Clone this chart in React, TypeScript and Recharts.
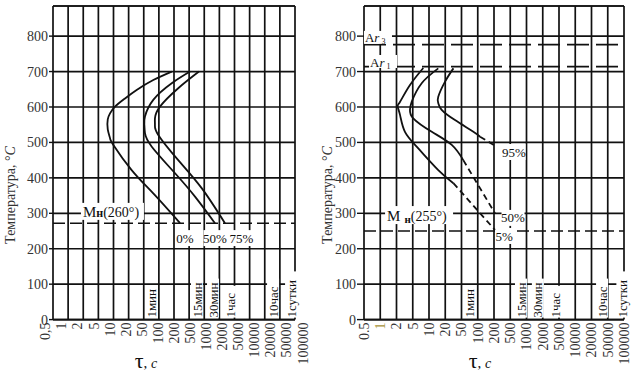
import React from "react";
import { LineChart, Line, XAxis, YAxis, CartesianGrid, ReferenceLine, ReferenceDot } from "recharts";

const FONT = '"Liberation Serif", "DejaVu Serif", serif';
const INK = "#111";
const GREY = "#333";

// time axis: ticks are evenly spaced, x values below are positions on that grid
const leftTicks = ["0,5", "1", "2", "5", "10", "20", "50", "100", "200", "500", "1000", "2000", "5000", "10000", "20000", "50000", "100000"];
const rightTicks = ["0.5", "1", "2", "5", "10", "20", "50", "100", "200", "500", "1000", "2000", "5000", "10000", "20000", "50000", "100000"];
const tempTicks = [0, 100, 200, 300, 400, 500, 600, 700, 800];
const tempTop = 885;

// left diagram, [grid position, °C]
const left0 = [[7.85, 700], [6.63, 676], [5.53, 648], [4.76, 624], [4.1, 601], [3.77, 582], [3.62, 565], [3.62, 537], [3.77, 512], [3.99, 493], [5.2, 422], [6.63, 356], [8.4, 272]];
const left50 = [[9.06, 700], [7.85, 667], [6.63, 620], [6.08, 573], [6.04, 549], [6.08, 526], [6.53, 488], [8.07, 413], [9.39, 347], [10.71, 272]];
const left75 = [[9.65, 700], [8.28, 653], [7.07, 601], [6.74, 568], [6.74, 549], [6.96, 521], [8.28, 450], [9.83, 371], [11.37, 272]];
const leftMn = 272;

// right diagram
const right5 = [[3.65, 710], [2.83, 662], [2.22, 615], [2.07, 601], [2.22, 577], [2.52, 530], [3.34, 483], [4.57, 422], [5.5, 385]];
const right5Dash = [[5.5, 385], [8.06, 253]];
const right50 = [[4.57, 709], [3.55, 667], [2.94, 615], [2.83, 592], [3.03, 568], [4.17, 530], [5.4, 493], [6.11, 450]];
const right50Dash = [[6.11, 450], [8.06, 300]];
const right95 = [[5.5, 709], [4.98, 671], [4.57, 629], [4.57, 611], [4.78, 592], [5.6, 563], [6.73, 530], [7.14, 516]];
const right95Dash = [[7.14, 516], [8.17, 488]];
const rightMn = 250;
const ar1 = 714;
const ar3 = 776;

const leftPct = [["0%", 8.73, 230], ["50%", 10.71, 230], ["75%", 12.46, 230]];
const rightPct = [["95%", 9.23, 473], ["50%", 9.17, 287], ["5%", 8.62, 236]];

const leftTimes = [["1мин", 6.48], ["15мин", 9.52], ["30мин", 10.58], ["1час", 11.7], ["10час", 14.55], ["1сутки", 15.74]];
const rightTimes = [["1мин", 6.52], ["15мин", 9.66], ["30мин", 10.7], ["1час", 11.8], ["10час", 14.65], ["1сутки", 15.9]];

const pts = (a: number[][]) => a.map(([x, t]) => ({ x, t }));

function TimeTick({ x, y, payload, labels, spread }: any) {
  const v = payload.value;
  const px = x + (spread ? (v - 8) * 0.95 : 0);
  return (
    <text x={px} y={y} transform={`rotate(-90 ${px} ${y})`} textAnchor="end" dy="0.35em" fontSize={14} fontFamily={FONT} fill={v === 1 && !spread ? "#a8923a" : GREY}>
      {labels[v]}
    </text>
  );
}

function BoxText({ cx, cy, text }: any) {
  const w = text.length * 7 + 2;
  return (
    <g>
      <rect x={cx - w / 2} y={cy - 8} width={w} height={16} fill="#fff" />
      <text x={cx} y={cy} dy="0.35em" textAnchor="middle" fontSize={13} fontFamily={FONT} fill={INK}>{text}</text>
    </g>
  );
}

function TimeMark({ cx, cy, text }: any) {
  const len = text.length * 7.2 + 3;
  const by = cy - 2;
  return (
    <g>
      <rect x={cx - 6} y={by - len} width={12} height={len} fill="#fff" />
      <text x={cx} y={by} transform={`rotate(-90 ${cx} ${by})`} dy="0.35em" fontSize={13} fontFamily={FONT} fill={INK}>{text}</text>
    </g>
  );
}

function MnLeft({ cx, cy }: any) {
  return (
    <g>
      <rect x={cx - 2} y={cy - 9} width={63} height={17} fill="#fff" />
      <text x={cx} y={cy} dy="0.35em" fontFamily={FONT} fill={INK}>
        <tspan fontSize={15}>M</tspan>
        <tspan fontSize={12} fontWeight="bold">н</tspan>
        <tspan fontSize={14}>(260°)</tspan>
      </text>
    </g>
  );
}

function MnRight({ cx, cy }: any) {
  return (
    <g>
      <rect x={cx - 2} y={cy - 9} width={68} height={18} fill="#fff" />
      <text x={cx} y={cy} dy="0.35em" fontFamily={FONT} fill={INK}>
        <tspan fontSize={15}>M</tspan>
        <tspan fontSize={11} fontWeight="bold" dx={4} dy={2}>н</tspan>
        <tspan fontSize={14} dy={-2}>(255°)</tspan>
      </text>
    </g>
  );
}

function ArLabel({ cx, cy, sub }: any) {
  return (
    <g>
      <rect x={cx - 1} y={cy - 7} width={28} height={13} fill="#fff" />
      <text x={cx} y={cy} dy="0.35em" fontFamily={FONT} fill={INK} fontSize={13}>
        <tspan>A</tspan>
        <tspan fontStyle="italic">r</tspan>
        <tspan fontSize={8} dx={2} dy={2}>{sub}</tspan>
      </text>
    </g>
  );
}

function Panel({ ticks, spread, yWidth, right, tickSize, solid, dashed, mn, extra, pct, times }: any) {
  const idx = ticks.map((_: string, i: number) => i);
  return (
    <LineChart width={321} height={378} margin={{ top: 6, right, bottom: 0, left: 0 }}>
      <CartesianGrid stroke={INK} strokeWidth={1.7} />
      <XAxis
        dataKey="x"
        type="number"
        domain={[0, 16]}
        ticks={idx}
        interval={0}
        height={58.4}
        axisLine={{ stroke: INK, strokeWidth: 1.7 }}
        tickLine={false}
        tickSize={0}
        tickMargin={3}
        tick={(p: any) => <TimeTick {...p} labels={ticks} spread={spread} />}
      />
      <YAxis
        type="number"
        domain={[0, tempTop]}
        ticks={tempTicks}
        width={yWidth}
        axisLine={false}
        tickSize={tickSize}
        tickMargin={1}
        tickLine={{ stroke: INK, strokeWidth: 1.4 }}
        tick={{ fill: GREY, fontSize: 14, fontFamily: FONT }}
      />
      <ReferenceLine y={tempTop} stroke={INK} strokeWidth={1.7} />
      <ReferenceLine y={mn} stroke={INK} strokeWidth={1.6} strokeDasharray="12 5" />
      {extra.map((v: number) => (
        <ReferenceLine key={v} y={v} stroke={INK} strokeWidth={1.6} strokeDasharray="22 7" />
      ))}
      {solid.map((s: number[][], i: number) => (
        <Line key={"s" + i} data={pts(s)} dataKey="t" type="natural" stroke={INK} strokeWidth={1.8} dot={false} isAnimationActive={false} />
      ))}
      {dashed.map((s: number[][], i: number) => (
        <Line key={"d" + i} data={pts(s)} dataKey="t" type="linear" stroke={INK} strokeWidth={1.8} strokeDasharray="6 4" dot={false} isAnimationActive={false} />
      ))}
      {pct.map(([text, x, t]: any) => (
        <ReferenceDot key={text + x} x={x} y={t} r={1} shape={(p: any) => <BoxText cx={p.cx} cy={p.cy} text={text} />} />
      ))}
      {times.map(([text, x]: any) => (
        <ReferenceDot key={text} x={x} y={0} r={1} shape={(p: any) => <TimeMark cx={p.cx} cy={p.cy} text={text} />} />
      ))}
      {spread ? (
        <ReferenceDot x={1.98} y={304} r={1} shape={(p: any) => <MnLeft cx={p.cx} cy={p.cy} />} />
      ) : (
        <ReferenceDot x={1.42} y={295} r={1} shape={(p: any) => <MnRight cx={p.cx} cy={p.cy} />} />
      )}
      {!spread && <ReferenceDot x={0.06} y={795} r={1} shape={(p: any) => <ArLabel cx={p.cx} cy={p.cy} sub="3" />} />}
      {!spread && <ReferenceDot x={0.37} y={727} r={1} shape={(p: any) => <ArLabel cx={p.cx} cy={p.cy} sub="1" />} />}
    </LineChart>
  );
}

function Titles() {
  const yTitle = (x: number) => (
    <text x={x} y={195} transform={`rotate(-90 ${x} 195)`} textAnchor="middle" dy="0.35em" fontSize={14} fontFamily={FONT} fill={GREY}>
      Температура, °<tspan fontStyle="italic">C</tspan>
    </text>
  );
  const xTitle = (x: number) => (
    <text x={x} y={368} textAnchor="middle" fontFamily={FONT} fill={INK}>
      <tspan fontSize={22}>τ</tspan>
      <tspan fontSize={15}>, </tspan>
      <tspan fontSize={14} fontStyle="italic">c</tspan>
    </text>
  );
  return (
    <svg width={642} height={378} style={{ position: "absolute", left: 0, top: 0, pointerEvents: "none" }}>
      {yTitle(10)}
      {yTitle(327)}
      {xTitle(146)}
      {xTitle(480)}
    </svg>
  );
}

export default function App() {
  return (
    <div style={{ position: "absolute", left: 0, top: 0, width: 642, height: 378, background: "#fff", overflow: "hidden" }}>
      <div style={{ position: "absolute", left: 0, top: 0 }}>
        <Panel
          ticks={leftTicks}
          spread
          yWidth={53}
          right={26}
          tickSize={4}
          solid={[left0, left50, left75]}
          dashed={[]}
          mn={leftMn}
          extra={[]}
          pct={leftPct}
          times={leftTimes}
        />
      </div>
      <div style={{ position: "absolute", left: 321, top: 0 }}>
        <Panel
          ticks={rightTicks}
          spread={false}
          yWidth={43}
          right={18}
          tickSize={7}
          solid={[right5, right50, right95]}
          dashed={[right5Dash, right50Dash, right95Dash]}
          mn={rightMn}
          extra={[ar1, ar3]}
          pct={rightPct}
          times={rightTimes}
        />
      </div>
      <Titles />
    </div>
  );
}
